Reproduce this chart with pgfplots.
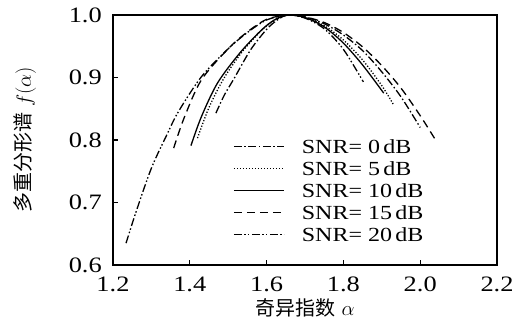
\documentclass[border=0pt]{standalone}
\usepackage{pgfplots}
\pgfplotsset{compat=1.18}
\usepackage{fontspec}
\setmainfont{Liberation Serif}[FakeStretch=1.2]
\newfontfamily\cjk{Noto Sans CJK SC}
\begin{document}
\begin{tikzpicture}
\begin{axis}[
  scale only axis, width=384bp, height=250bp,
  at={(0,0)}, anchor=south west,
  xmin=1.2, xmax=2.2, ymin=0.6, ymax=1.0,
  xtick={1.2,1.4,1.6,1.8,2.0,2.2},
  ytick={0.6,0.7,0.8,0.9,1.0},
  /pgf/number format/assume math mode=true,
  xticklabel={\pgfmathprintnumber[fixed,fixed zerofill,precision=1]{\tick}},
  yticklabel={\pgfmathprintnumber[fixed,fixed zerofill,precision=1]{\tick}},
  tick label style={font=\fontsize{22bp}{26bp}\selectfont},
  xticklabel style={inner sep=0pt, anchor=north, yshift=-12bp},
  yticklabel style={inner sep=0pt, anchor=east, xshift=-11bp},
  tick align=inside, xtick pos=bottom, ytick pos=left,
  major tick length=5bp,
  tick style={line width=1.1bp, black},
  axis line style={line width=1.3bp},
  xlabel={{\cjk 奇异指数} $\alpha$},
  ylabel={{\cjk 多重分形谱} $f(\alpha)$},
  label style={font=\fontsize{20bp}{24bp}\selectfont},
  xlabel style={at={(axis description cs:0.5,0)}, anchor=center, yshift=-43bp},
  ylabel style={at={(axis description cs:-0.229,0.5)}, anchor=center},
  legend style={at={(axis description cs:0.3125,0.51)}, anchor=north west,
    draw=none, fill=none, inner sep=0pt, row sep=4bp,
    font=\fontsize{20bp}{24bp}\selectfont,
    nodes={inner sep=2bp, text height=14bp, text depth=0bp}},
  legend cell align=left,
  legend image code/.code={\draw[#1] (0bp,0bp) -- (50bp,0bp); \path[draw=none] (66bp,0bp) -- (66bp,0.1bp);},
  every axis plot/.append style={line width=1.3bp, black},
]
% SNR = 0 dB (dash-dot)
\addplot[smooth, dash pattern=on 8bp off 2.5bp on 1.5bp off 2.5bp] coordinates {
(1.468,0.843)(1.49,0.872)(1.515,0.898)(1.558,0.944)(1.60,0.977)(1.63,0.993)(1.655,1.0)
(1.70,0.997)(1.75,0.986)(1.80,0.968)(1.85,0.943)(1.90,0.909)(1.95,0.869)(2.0,0.82)};
\addlegendentry{SNR=\ 0\,dB}
% SNR = 5 dB (dotted)
\addplot[smooth, dash pattern=on 1.2bp off 1.8bp] coordinates {
(1.42,0.803)(1.45,0.852)(1.49,0.900)(1.54,0.944)(1.59,0.977)(1.625,0.993)(1.655,1.0)
(1.70,0.996)(1.75,0.983)(1.80,0.960)(1.85,0.928)(1.90,0.887)(1.931,0.856)};
\addlegendentry{SNR=\ 5\,dB}
% SNR = 10 dB (solid)
\addplot[smooth] coordinates {
(1.403,0.791)(1.43,0.837)(1.472,0.891)(1.53,0.939)(1.585,0.975)(1.62,0.992)(1.655,1.0)
(1.70,0.996)(1.75,0.981)(1.80,0.955)(1.85,0.920)(1.905,0.875)};
\addlegendentry{SNR=\ 10\,dB}
% SNR = 15 dB (dashed)
\addplot[smooth, dash pattern=on 8bp off 5bp] coordinates {
(1.358,0.787)(1.385,0.835)(1.43,0.896)(1.50,0.946)(1.55,0.973)(1.60,0.993)(1.655,1.0)
(1.70,0.997)(1.75,0.988)(1.80,0.972)(1.85,0.949)(1.90,0.919)(1.95,0.883)(2.00,0.839)(2.04,0.80)};
\addlegendentry{SNR=\ 15\,dB}
% SNR = 20 dB (dash-dot-dot)
\addplot[smooth, dash pattern=on 8bp off 2.5bp on 1.5bp off 2bp on 1.5bp off 2.5bp] coordinates {
(1.234,0.635)(1.26,0.685)(1.30,0.755)(1.34,0.808)(1.37,0.845)(1.43,0.901)(1.50,0.946)
(1.55,0.972)(1.60,0.992)(1.655,1.0)(1.70,0.995)(1.75,0.978)(1.80,0.945)(1.852,0.893)};
\addlegendentry{SNR=\ 20\,dB}
\end{axis}
\pgfresetboundingbox
\path[use as bounding box] (-113bp,-64bp) rectangle (409bp,265bp);
\end{tikzpicture}
\end{document}
